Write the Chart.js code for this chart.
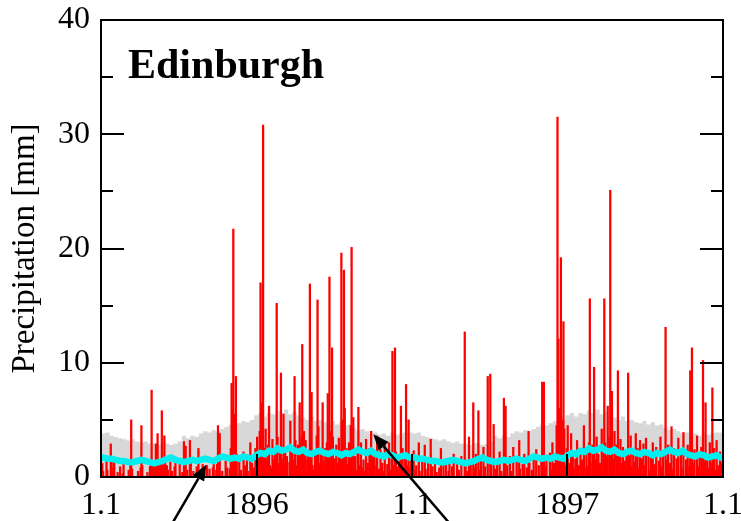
<!DOCTYPE html>
<html>
<head>
<meta charset="utf-8">
<script src="https://cdn.jsdelivr.net/npm/chart.js@4.4.0/dist/chart.umd.min.js"></script>
<style>
  html, body { margin: 0; padding: 0; background: #fff; }
  canvas { display: block; }
</style>
</head>
<body>
<canvas id="precipChart" width="741" height="521"></canvas>
<script>
// day index from 1.1.1896, ticks and labels
const xTickDays = [0, 183, 366, 548, 731];
const xTickLabels = ['1.1', '1896', '1.1', '1897', '1.1'];
const yearStarts = [0, 366];
const yearEnd = 731;

// daily precipitation [mm]
const precip1896 = [
  0,1.2,0.5,0,0,0,1.8,0.6,0,0,
  0,2.9,1.6,0,0.8,1.4,0,0,0,0.4,
  0,0,0.9,0,0,0.3,1.1,0,0,0,
  0,0,0.6,0,1.3,5.0,0.7,0,0,0,
  0,0,0,0.5,0,0,0.8,4.5,1.0,0,
  0,0,0,0,0.4,0,0,0.9,1.2,7.6,
  1.0,0.9,1.2,0.8,2.9,1.0,3.8,1.1,0.9,1.0,
  1.2,5.8,0.9,1.0,3.6,1.2,0.8,1.0,0.6,0,
  0,1.3,0,0.5,0,0,0.9,1.4,0,0,
  0,0,1.6,0,0,0.4,0,3.1,0.8,2.7,
  0,0.6,0,0,3.2,1.2,0,0,0.5,0,
  0,0,0.9,0,2.5,0.6,0,0,0,1.1,
  0,0.4,0,0,1.0,0,0,0.7,0,0,
  0,0.8,1.3,0,0,0.6,1.1,4.5,0.9,3.8,
  0,0,0.5,0,0,0,1.4,0,0.8,0,
  0,0.7,2.5,8.2,6.0,21.7,4.0,5.5,8.8,2.0,
  0,0,1.5,0,0.6,0,0,2.2,0,1.0,
  0,1.8,0.5,0,0,3.0,0,1.2,0,0.8,
  0,2.5,1.1,3.5,0,1.8,4.0,17.0,6.5,3.0,
  30.8,2.5,0,4.2,1.5,0,2.8,6.2,1.0,0,
  0.8,3.3,0,1.5,2.0,0,15.2,3.5,0,1.2,
  2.2,9.1,1.6,0,5.5,0.9,2.4,0,1.8,0,
  0,1.3,4.9,0.7,2.6,0,1.5,8.8,3.2,0,
  1.0,2.8,0,6.5,2.0,3.5,11.6,1.2,4.0,2.6,
  3.2,0,1.5,2.3,0,16.9,5.5,7.4,1.0,0,
  0.6,2.0,0,3.6,15.5,4.4,1.2,0,2.1,0,
  6.5,1.4,0,2.5,0.8,3.0,7.3,2.2,17.5,4.0,
  2.0,11.3,3.5,0,1.6,0,2.8,1.2,0,3.4,
  0,2.2,19.6,5.0,1.0,18.1,6.0,0,2.5,1.1,
  0,3.0,1.4,4.5,20.1,2.6,5.2,0,1.8,0.6,
  0,2.4,6.1,1.0,0,3.0,0.8,0,1.5,0,
  0.5,3.3,0,1.2,0,2.5,0.9,4.0,0,1.8,
  0,2.1,0,1.0,3.6,0,0.7,0,2.4,0,
  1.2,0,0.5,2.8,0,0,1.1,0,3.0,0.6,
  0,2.0,11.0,1.0,0,11.3,2.2,0,0.9,0,
  1.4,0,6.2,0,2.5,0.7,0,1.8,8.1,1.0,
  0,5.0,0.8,0,1.6,0
];
const precip1897 = [
  0,2.3,0.6,0,1.0,0,0,3.0,0.5,0,
  0,1.4,0,0,2.8,0.7,0,0,1.2,0,
  0,3.3,0,0.9,0,0,1.5,0,0.4,0,
  0,0.8,0,2.5,0,0,1.0,0,0,1.6,
  0,0,0.5,1.5,0,0,0.9,0,2.0,0,
  0,0,1.1,0,0.6,0,0,1.8,0,0,
  0,12.7,1.0,0,0.5,0,3.5,0,1.2,0,
  0,6.5,0.8,0,2.0,0,0,5.8,0.6,0,
  1.5,0,0,2.6,0,0.9,0,0,8.8,0,
  0,9.0,1.2,0,0,4.6,0,0.7,0,1.3,
  0,0,2.2,0,0.5,0,0,6.9,0.8,6.2,
  0,1.0,0,0,1.8,0,0.5,0,2.6,0,
  0,0,1.3,0,0,3.2,0.7,0,0,1.1,
  0,2.0,0,0,0.8,0,4.0,1.2,0,0,
  0.6,0,1.7,0,0,2.4,0,0,1.0,0,
  0,1.5,8.3,2.0,8.3,0.9,0,1.4,0,0,
  0,2.1,0,0.6,3.0,0,1.2,0,1.8,4.5,
  31.5,12.1,6.0,3.5,19.2,5.0,2.8,13.6,4.2,1.0,
  0,2.5,4.5,0,1.2,0,3.8,0,2.0,0.8,
  0,1.6,0,3.2,0,1.0,0,2.4,0,1.5,
  0,4.5,0.8,0,2.2,1.0,0,3.0,15.6,1.2,
  0,2.8,0,9.6,1.5,0,3.5,0.7,2.0,0,
  1.2,0,4.2,0,2.5,15.6,3.0,0,1.8,6.2,
  0,3.5,25.1,2.2,7.5,0,1.6,4.0,0,2.8,
  0.9,9.3,2.0,0,3.3,1.2,0,2.6,0,1.4,
  0,2.4,0,9.1,1.8,0,3.6,0.9,0,2.2,
  0,1.3,3.8,0,2.5,0,0.8,3.2,0,1.6,
  0,2.9,0,1.0,3.4,0,0,2.0,0.6,0,
  1.8,0,3.0,0,1.1,0,2.6,0,0,1.4,
  0,3.5,0.9,0,2.2,0,0,13.1,1.5,0,
  2.8,0,1.2,0,4.4,0,0.7,2.5,0,0,
  1.6,0,3.4,0,0,2.0,0.8,0,3.9,0,
  0,1.5,0,2.8,0,1.0,9.3,3.0,11.3,1.2,
  0,2.4,0,0,3.6,0.9,0,1.8,0,2.6,
  0,10.2,1.4,0,6.5,0,2.0,0,0.8,3.0,
  0,1.2,7.8,0,2.5,0,0.6,3.2,0,1.0,
  0,2.2,0,1.3,0
];

// climatology per 5-day pentad (73 per year): upper edge of grey band and mean
const climUpper = [
  3.9,3.8,3.9,3.6,3.5,3.4,
  3.3,3.2,3.3,3.1,3.0,3.1,
  2.9,2.9,2.8,3.0,2.9,2.8,
  2.9,3.1,3.6,3.4,3.6,3.5,
  3.8,4.0,3.9,4.1,4.0,4.2,
  4.4,4.6,4.5,4.7,4.9,4.8,
  5.0,5.4,5.6,5.3,5.6,5.5,
  5.8,5.6,5.9,5.5,5.7,5.4,
  5.2,5.0,5.3,4.9,5.0,4.8,
  4.7,4.9,4.6,4.8,4.5,4.6,
  4.3,4.1,4.2,4.0,3.8,3.9,
  3.7,3.8,3.6,3.9,3.7,3.8,3.9
];
const climMean = [
  1.7,1.6,1.6,1.5,1.4,1.4,
  1.3,1.3,1.4,1.5,1.4,1.3,
  1.2,1.3,1.4,1.6,1.7,1.5,
  1.4,1.3,1.4,1.5,1.4,1.5,
  1.6,1.5,1.4,1.6,1.8,1.7,
  1.6,1.7,1.6,1.8,1.7,1.6,
  1.9,2.1,2.0,2.3,2.2,2.5,
  2.3,2.4,2.6,2.3,2.2,2.4,
  2.1,2.0,2.2,2.3,2.1,2.0,
  2.2,2.1,1.9,2.1,2.0,2.2,
  2.4,2.2,2.1,2.3,2.0,1.9,
  1.8,2.0,1.9,1.7,1.8,1.9,1.7
];

// annotation arrows in data units [day, mm]
const arrowFrom = [[78, -4.8], [417, -4.7]];
const arrowTo = [[124, 1.1], [320, 3.75]];

const precip = precip1896.concat(precip1897);
const barData = precip.map((v, i) => ({ x: i + 0.5, y: v }));

const bandData = [];
const meanData = [{ x: 0, y: climMean[0] }];
yearStarts.forEach(s => {
  climUpper.forEach((v, p) => bandData.push({ x: s + p * 5, y: v }));
  climMean.forEach((v, p) => meanData.push({ x: s + p * 5 + 2.5, y: v }));
});
bandData.push({ x: yearEnd, y: climUpper[climUpper.length - 1] });
meanData.push({ x: yearEnd, y: climMean[0] });

const serif = 'Liberation Serif, Times New Roman, serif';

const framePlugin = {
  id: 'frame',
  afterDatasetsDraw(chart) {
    const { ctx, chartArea: a, scales } = chart;
    ctx.save();
    ctx.strokeStyle = '#000';
    ctx.lineWidth = 2;
    ctx.beginPath();
    for (let v = 5; v < 40; v += 5) {
      const y = Math.round(scales.y.getPixelForValue(v));
      const len = v % 10 === 0 ? 23 : 12;
      ctx.moveTo(a.left, y); ctx.lineTo(a.left + len, y);
      ctx.moveTo(a.right, y); ctx.lineTo(a.right - len, y);
    }
    xTickDays.slice(1, -1).forEach(d => {
      const x = Math.round(scales.x.getPixelForValue(d));
      ctx.moveTo(x, a.bottom); ctx.lineTo(x, a.bottom - 23);
    });
    ctx.stroke();
    ctx.strokeRect(a.left, a.top, a.right - a.left, a.bottom - a.top);
    ctx.restore();
  },
  afterDraw(chart) {
    const { ctx, chartArea: a, scales } = chart;
    ctx.save();
    ctx.fillStyle = '#000';
    ctx.font = 'bold 42px ' + serif;
    ctx.textBaseline = 'alphabetic';
    ctx.fillText('Edinburgh', a.left + 27, a.top + 58);

    ctx.strokeStyle = '#000';
    ctx.lineWidth = 2.5;
    arrowFrom.forEach((f, i) => {
      const x1 = scales.x.getPixelForValue(f[0]), y1 = scales.y.getPixelForValue(f[1]);
      const x2 = scales.x.getPixelForValue(arrowTo[i][0]), y2 = scales.y.getPixelForValue(arrowTo[i][1]);
      const ang = Math.atan2(y2 - y1, x2 - x1);
      const hl = 16, hw = 6.5;
      const bx = x2 - hl * Math.cos(ang), by = y2 - hl * Math.sin(ang);
      ctx.beginPath();
      ctx.moveTo(x1, y1); ctx.lineTo(bx, by);
      ctx.stroke();
      ctx.beginPath();
      ctx.moveTo(x2, y2);
      ctx.lineTo(bx + hw * Math.sin(ang), by - hw * Math.cos(ang));
      ctx.lineTo(bx - hw * Math.sin(ang), by + hw * Math.cos(ang));
      ctx.closePath();
      ctx.fill();
    });
    ctx.restore();
  }
};

new Chart(document.getElementById('precipChart'), {
  type: 'bar',
  data: {
    datasets: [
      {
        type: 'line',
        data: bandData,
        stepped: 'after',
        fill: 'origin',
        backgroundColor: '#d8d8d8',
        borderWidth: 0,
        pointRadius: 0,
        order: 3
      },
      {
        type: 'bar',
        data: barData,
        backgroundColor: '#ff0000',
        borderWidth: 0,
        barThickness: 1.6,
        grouped: false,
        order: 2
      },
      {
        type: 'line',
        data: meanData,
        borderColor: '#00f0f0',
        borderWidth: 6.5,
        pointRadius: 0,
        fill: false,
        clip: 5,
        order: 1
      }
    ]
  },
  options: {
    responsive: false,
    devicePixelRatio: 1,
    animation: false,
    layout: { padding: { top: 20, right: 18, left: 0, bottom: 0 } },
    plugins: {
      legend: { display: false },
      tooltip: { enabled: false }
    },
    scales: {
      x: {
        type: 'linear',
        min: 0,
        max: yearEnd,
        offset: false,
        grid: { display: false, drawTicks: false },
        border: { display: false },
        afterBuildTicks: s => { s.ticks = xTickDays.map(v => ({ value: v })); },
        afterFit: s => { s.height = 44; s.paddingLeft = 0; s.paddingRight = 0; },
        ticks: {
          autoSkip: false,
          maxRotation: 0,
          padding: 9,
          color: '#000',
          font: { family: serif, size: 32 },
          callback: (v, i) => xTickLabels[i]
        }
      },
      y: {
        min: 0,
        max: 40,
        grid: { display: false, drawTicks: false },
        border: { display: false },
        afterFit: s => { s.width = 101; s.paddingTop = 0; s.paddingBottom = 0; },
        ticks: {
          stepSize: 10,
          padding: 11,
          color: '#000',
          font: { family: serif, size: 32 }
        },
        title: {
          display: true,
          text: 'Precipitation [mm]',
          color: '#000',
          font: { family: serif, size: 33 },
          padding: { top: 6, bottom: 0 }
        }
      }
    }
  },
  plugins: [framePlugin]
});
</script>
</body>
</html>
